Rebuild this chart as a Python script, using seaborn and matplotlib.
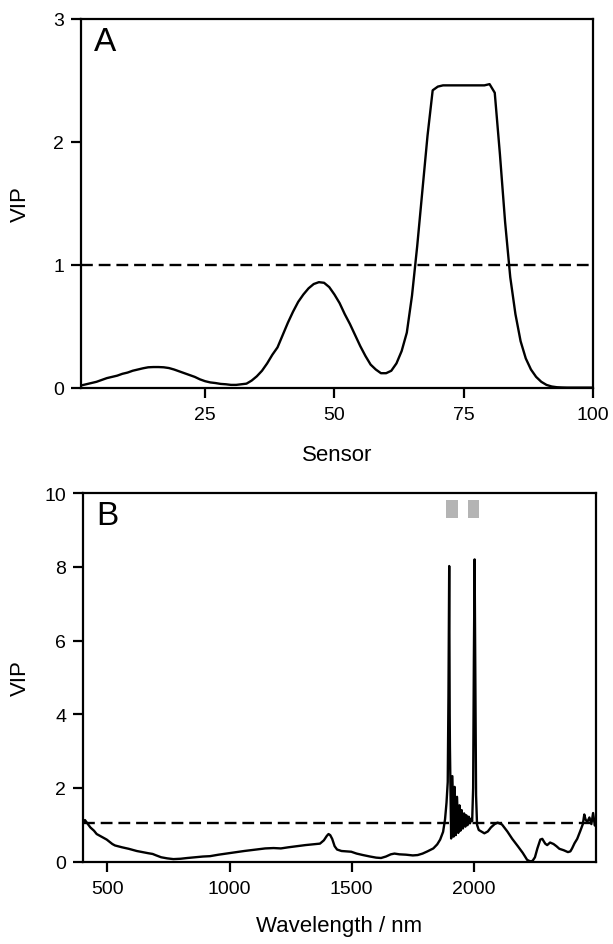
#VIP profiles: e-nose sensors (A) and NIR wavelengths (B)

import numpy as np
import matplotlib
matplotlib.use("Agg")
import matplotlib.pyplot as plt
import seaborn as sns

#panel A data, one VIP value per sensor
sensor = list(range(1, 101))
vip_sensor = [0.02, 0.03, 0.04, 0.05, 0.065, 0.08, 0.09, 0.10, 0.115, 0.125,
              0.14, 0.15, 0.16, 0.168, 0.17, 0.17, 0.168, 0.162, 0.15, 0.135,
              0.12, 0.105, 0.09, 0.07, 0.055, 0.045, 0.04, 0.033, 0.03, 0.025,
              0.025, 0.03, 0.035, 0.06, 0.095, 0.14, 0.20, 0.27, 0.33, 0.43,
              0.53, 0.62, 0.70, 0.76, 0.81, 0.845, 0.86, 0.855, 0.82, 0.76,
              0.69, 0.60, 0.52, 0.43, 0.34, 0.26, 0.19, 0.15, 0.12, 0.12,
              0.14, 0.20, 0.30, 0.45, 0.75, 1.15, 1.60, 2.05, 2.42, 2.45,
              2.46, 2.46, 2.46, 2.46, 2.46, 2.46, 2.46, 2.46, 2.46, 2.47,
              2.40, 1.90, 1.35, 0.90, 0.60, 0.38, 0.24, 0.15, 0.09, 0.05,
              0.025, 0.012, 0.006, 0.004, 0.003, 0.003, 0.003, 0.003, 0.003, 0.003]

#panel B data
wavelength = [400, 408, 420, 430, 445, 456, 475, 497, 520, 531,
              560, 587, 620, 650, 667, 685, 700, 720, 745, 770,
              800, 827, 860, 891, 920, 955, 985, 1018, 1060, 1098,
              1146, 1180, 1210, 1240, 1274, 1310, 1338, 1370, 1386, 1398,
              1405, 1412, 1420, 1430, 1440, 1458, 1480, 1498, 1520, 1546,
              1575, 1600, 1620, 1640, 1660, 1675, 1695, 1722, 1750, 1770,
              1790, 1810, 1834, 1850, 1862, 1874, 1882, 1888, 1893, 1896,
              1899, 1901, 1902, 1907, 1912, 1917, 1921, 1926, 1931, 1936,
              1941, 1945, 1950, 1955, 1960, 1965, 1969, 1974, 1979, 1984,
              1989, 1993, 1997, 2000, 2003, 2006, 2009, 2013, 2020, 2030,
              2043, 2057, 2070, 2085, 2097, 2115, 2137, 2157, 2180, 2200,
              2218, 2230, 2240, 2250, 2260, 2272, 2280, 2292, 2300, 2312,
              2326, 2338, 2350, 2368, 2385, 2395, 2402, 2412, 2423, 2436,
              2446, 2452, 2457, 2464, 2473, 2481, 2488, 2495, 2500]
vip_wave = [1.08, 1.13, 1.02, 0.93, 0.84, 0.75, 0.68, 0.60, 0.48, 0.44,
            0.39, 0.35, 0.29, 0.25, 0.23, 0.21, 0.17, 0.12, 0.09, 0.07,
            0.08, 0.10, 0.12, 0.14, 0.15, 0.19, 0.22, 0.25, 0.29, 0.32,
            0.36, 0.37, 0.36, 0.39, 0.42, 0.45, 0.47, 0.49, 0.58, 0.70,
            0.75, 0.72, 0.62, 0.42, 0.33, 0.29, 0.28, 0.27, 0.22, 0.18,
            0.14, 0.11, 0.10, 0.14, 0.20, 0.22, 0.20, 0.19, 0.17, 0.18,
            0.22, 0.28, 0.36, 0.47, 0.60, 0.81, 1.15, 1.60, 2.16, 4.5,
            8.02, 4.0, 3.10, 0.63, 2.32, 0.68, 2.03, 0.72, 1.76, 0.78,
            1.53, 0.84, 1.40, 0.90, 1.31, 0.95, 1.26, 0.99, 1.22, 1.04,
            1.17, 1.10, 2.0, 5.5, 8.2, 5.0, 1.8, 1.0, 0.86, 0.82,
            0.77, 0.82, 0.93, 1.02, 1.06, 1.01, 0.82, 0.62, 0.42, 0.24,
            0.05, 0.01, 0.02, 0.12, 0.36, 0.60, 0.62, 0.49, 0.45, 0.52,
            0.48, 0.42, 0.35, 0.31, 0.26, 0.28, 0.36, 0.50, 0.62, 0.84,
            1.02, 1.28, 1.15, 1.07, 1.20, 1.02, 1.32, 0.98, 1.05]

#grey bars marking the water bands
band_start = [1885, 1978]
band_end = [1935, 2020]
band_low, band_high = 9.32, 9.82

thresh_a = 1.0
thresh_b = 1.05

sns.set_style("ticks")
plt.rcParams["font.family"] = ["Liberation Sans", "DejaVu Sans"]
for key in ["text.color", "axes.labelcolor", "xtick.color", "ytick.color", "axes.edgecolor"]:
    plt.rcParams[key] = "black"
plt.rcParams["axes.linewidth"] = 1.6
plt.rcParams["xtick.major.width"] = 1.6
plt.rcParams["ytick.major.width"] = 1.6
plt.rcParams["xtick.major.size"] = 7
plt.rcParams["ytick.major.size"] = 7
plt.rcParams["xtick.major.pad"] = 6
plt.rcParams["ytick.major.pad"] = 5

fig = plt.figure(figsize=(6.13, 9.45), dpi=100)
ax1 = fig.add_axes([0.1321, 0.5884, 0.8353, 0.3905])
ax2 = fig.add_axes([0.1354, 0.0871, 0.8369, 0.3901])

#Plot A
sns.lineplot(x=sensor, y=vip_sensor, ax=ax1, color="black", linewidth=1.7)
ax1.axhline(thresh_a, color="black", linewidth=1.7, linestyle=(0, (5, 2.5)))
ax1.set_xlim(1, 100)
ax1.set_ylim(0, 3)
ax1.set_xticks([25, 50, 75, 100])
ax1.set_yticks([0, 1, 2, 3])
ax1.set_xlabel("Sensor", fontsize=16, labelpad=15)
ax1.set_ylabel("VIP", fontsize=16, labelpad=16)
ax1.text(0.025, 0.982, "A", transform=ax1.transAxes, fontsize=24,
         ha="left", va="top")

#Plot B
sns.lineplot(x=wavelength, y=vip_wave, ax=ax2, color="black", linewidth=1.7)
ax2.axhline(thresh_b, color="black", linewidth=1.7, linestyle=(0, (5, 2.5)))
for x0, x1 in zip(band_start, band_end):
    ax2.fill_between([x0, x1], band_low, band_high, color="#b4b4b4", linewidth=0)
ax2.set_xlim(400, 2500)
ax2.set_ylim(0, 10)
ax2.set_xticks([500, 1000, 1500, 2000])
ax2.set_yticks([0, 2, 4, 6, 8, 10])
ax2.set_xlabel("Wavelength / nm", fontsize=16, labelpad=13)
ax2.set_ylabel("VIP", fontsize=16, labelpad=10)
ax2.text(0.025, 0.982, "B", transform=ax2.transAxes, fontsize=24,
         ha="left", va="top")

for ax in (ax1, ax2):
    ax.tick_params(labelsize=14, top=False, right=False)
    for s in ax.spines.values():
        s.set_visible(True)

fig.savefig("out.png", dpi=100)
